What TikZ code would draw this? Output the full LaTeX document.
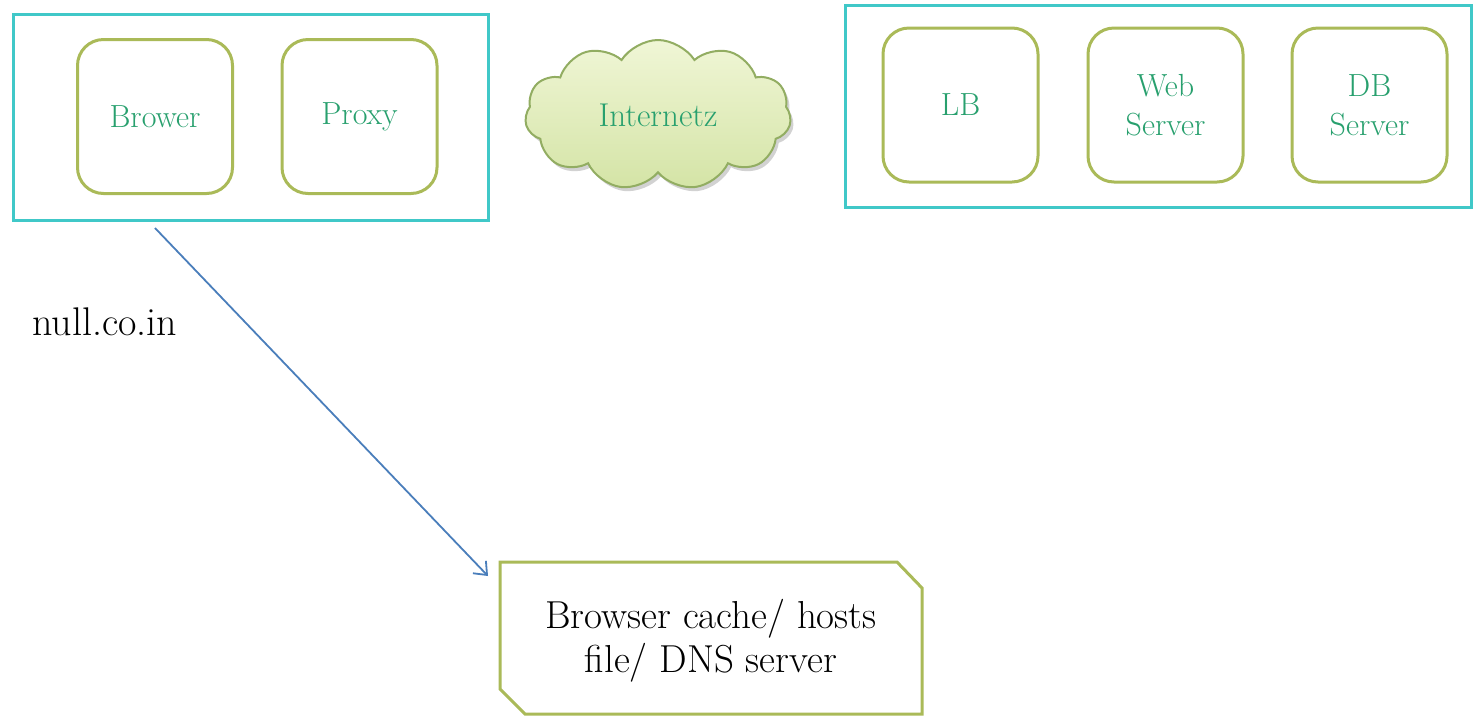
\documentclass[tikz,border=0pt]{standalone}
\usepackage{fontspec}
\usetikzlibrary{shapes.symbols,shadows,arrows.meta}
\definecolor{framecol}{RGB}{64,200,200}
\definecolor{olive}{RGB}{170,186,88}
\definecolor{txtgreen}{RGB}{40,160,110}
\definecolor{arrowcol}{RGB}{74,126,187}
\definecolor{cloudtop}{RGB}{240,246,214}
\definecolor{cloudbot}{RGB}{212,228,166}
\definecolor{cloudline}{RGB}{146,173,98}
\tikzset{
  groupframe/.style={draw=framecol, line width=3pt, rectangle, inner sep=0pt},
  compbox/.style={draw=olive, line width=3pt, rounded corners=26pt, inner sep=0pt,
    minimum width=155pt, minimum height=154pt, align=center, text=txtgreen,
    font=\fontsize{32}{39}\selectfont},
  netcloud/.style={cloud, cloud puffs=11, cloud puff arc=115, aspect=1.8,
    draw=cloudline, line width=2pt, top color=cloudtop, bottom color=cloudbot,
    minimum width=266pt, minimum height=150pt, text=txtgreen,
    font=\fontsize{33}{38}\selectfont,
    drop shadow={opacity=0.35, shadow xshift=3pt, shadow yshift=-4pt}},
  plainlabel/.style={font=\fontsize{40}{46}\selectfont, text=black, inner sep=0pt},
  dnstext/.style={font=\fontsize{39}{44}\selectfont, align=center, text=black, inner sep=0pt},
  snipbox/.style={draw=olive, line width=3pt, fill=white},
  lookup/.style={draw=arrowcol, line width=1.8pt, -{Straight Barb[length=11pt,width=18pt,line width=1.8pt]}}
}
\begin{document}
\begin{tikzpicture}[x=1pt,y=-1pt]
\useasboundingbox (0,0) rectangle (1477,716);
\fill[white] (0,0) rectangle (1477,716);

% client side group
\node[groupframe, minimum width=475pt, minimum height=206pt] (client) at (250.5,117) {};
\node[compbox] (browser) at (155,116.5) {Brower};
\node[compbox] (proxy) at (359.5,116.5) {Proxy};

% internet cloud
\node[netcloud] (internet) at (658,115) {Internetz};

% server side group
\node[groupframe, minimum width=626pt, minimum height=202pt] (servers) at (1158,106) {};
\node[compbox] (lb) at (960.5,105) {LB};
\node[compbox] (web) at (1165.5,105) {Web\\Server};
\node[compbox] (db) at (1369.5,105) {DB\\Server};

% domain label
\node[plainlabel, anchor=west] (domain) at (32,322) {null.co.in};

% DNS lookup box (snipped corners)
\coordinate (dnsTL) at (500,562);
\coordinate (dnsTR) at (922,562);
\coordinate (dnsBR) at (922,714);
\coordinate (dnsBL) at (500,714);
\draw[snipbox] (dnsTL) -- ([xshift=-25pt]dnsTR) -- ([yshift=-26pt]dnsTR) -- (dnsBR)
  -- ([xshift=25pt]dnsBL) -- ([yshift=25pt]dnsBL) -- cycle;
\node[dnstext] (dns) at (711,641) {Browser cache/ hosts\\file/ DNS server};

% arrow
\coordinate (arrowstart) at (155,228);
\coordinate (arrowend) at (488,576);
\draw[lookup] (arrowstart) -- (arrowend);
\end{tikzpicture}
\end{document}
